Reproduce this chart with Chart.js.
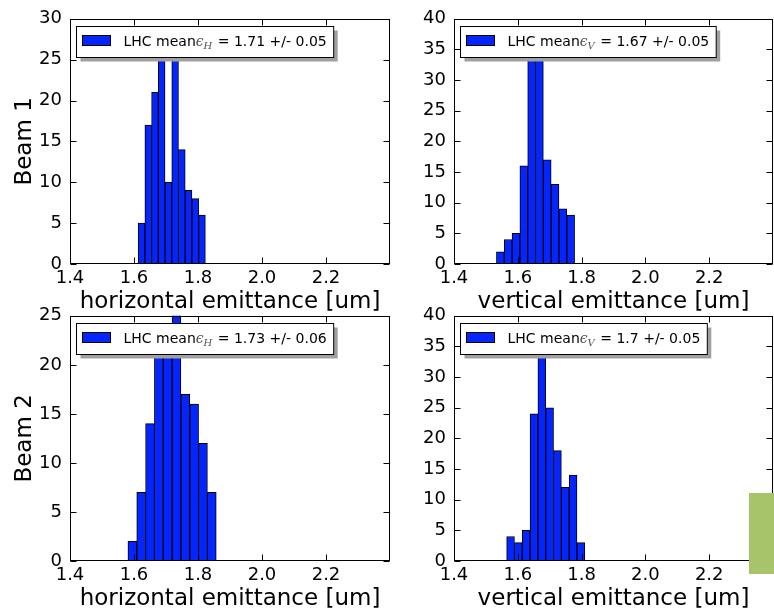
<!DOCTYPE html>
<html><head><meta charset="utf-8">
<script src="https://cdn.jsdelivr.net/npm/chart.js@4/dist/chart.umd.min.js"></script>
<style>
html,body{margin:0;padding:0;background:#fff;overflow:hidden;width:774px;height:610px;}
canvas{position:absolute;}
#green{position:absolute;left:749px;top:493px;width:25px;height:81px;background:#a7c46b;z-index:5;}
</style></head><body>
<canvas id="c1" width="400" height="320" style="left:0;top:0"></canvas>
<canvas id="c2" width="390" height="320" style="left:384px;top:0"></canvas>
<canvas id="c3" width="400" height="320" style="left:0;top:297px"></canvas>
<canvas id="c4" width="390" height="320" style="left:384px;top:297px"></canvas>
<div id="green"></div>
<script>
// ---- data ----
const xTickValues = [1.4, 1.6, 1.8, 2.0, 2.2];
const binCentersH1 = [1.6235, 1.6445, 1.6655, 1.6865, 1.7075, 1.7285, 1.7495, 1.7705, 1.7915, 1.8125];
const countsH1     = [5, 17, 21, 27, 10, 28, 14, 9, 8, 6];
const binCentersV1 = [1.5453, 1.5698, 1.5943, 1.6188, 1.6433, 1.6678, 1.6923, 1.7168, 1.7413, 1.7658];
const countsV1     = [2, 4, 5, 16, 36, 35, 17, 13, 9, 8];
const binCentersH2 = [1.5948, 1.6224, 1.6500, 1.6776, 1.7052, 1.7328, 1.7604, 1.7880, 1.8156, 1.8432];
const countsH2     = [2, 7, 14, 22, 23, 26, 17, 16, 12, 7];
const binCentersV2 = [1.5773, 1.6018, 1.6263, 1.6508, 1.6753, 1.6998, 1.7243, 1.7488, 1.7733, 1.7978];
const countsV2     = [4, 3, 5, 24, 36, 25, 18, 12, 14, 3];
const yMaxes       = [30, 40, 25, 40];
const legendMeans  = ['1.71', '1.67', '1.73', '1.7'];
const legendErrs   = ['0.05', '0.05', '0.06', '0.05'];
const legendSubs   = ['H', 'V', 'H', 'V'];
const xTitles      = ['horizontal emittance [um]', 'vertical emittance [um]', 'horizontal emittance [um]', 'vertical emittance [um]'];
const rowTitles    = ['Beam 1', '', 'Beam 2', ''];

const BLUE = '#0525ff';
Chart.defaults.font.family = "'DejaVu Sans', sans-serif";
Chart.defaults.color = '#000';

const decorPlugin = {
  id: 'decor',
  afterDatasetsDraw(chart, args, o) {
    const {ctx, chartArea: a, scales: {x, y}} = chart;
    ctx.save();
    ctx.strokeStyle = '#000';
    ctx.lineWidth = 1;
    const L = Math.round(a.left) + 0.5, R = Math.round(a.right) - 0.5;
    const T = Math.round(a.top) + 0.5, B = Math.round(a.bottom) - 0.5;
    ctx.strokeRect(L, T, R - L, B - T);
    const tl = 6;
    ctx.beginPath();
    x.ticks.forEach(t => {
      const px = Math.round(x.getPixelForValue(t.value)) + 0.5;
      ctx.moveTo(px, B); ctx.lineTo(px, B - tl);
      ctx.moveTo(px, T); ctx.lineTo(px, T + tl);
    });
    y.ticks.forEach(t => {
      const py = Math.round(y.getPixelForValue(t.value)) + 0.5;
      ctx.moveTo(L, py); ctx.lineTo(L + tl, py);
      ctx.moveTo(R, py); ctx.lineTo(R - tl, py);
    });
    ctx.stroke();

    // legend box
    const sans = "14px 'DejaVu Sans'";
    const serif = "italic 14px 'DejaVu Serif'";
    const serifSub = "italic 10px 'DejaVu Serif'";
    const s1 = 'LHC mean', s2 = '\u03F5', s3 = o.sub, s4 = ' = ' + o.mean + ' +/- ' + o.err;
    ctx.font = sans; const w1 = ctx.measureText(s1).width, w4 = ctx.measureText(s4).width;
    ctx.font = serif; const w2 = ctx.measureText(s2).width;
    ctx.font = serifSub; const w3 = ctx.measureText(s3).width;
    const bx = Math.round(a.left) + 6.5, by = Math.round(a.top) + 7.5;
    const textX = bx + 47;
    const bw = 47 + w1 + w2 + w3 + 1 + w4 + 7, bh = 31;
    ctx.fillStyle = '#a0a0a0';
    ctx.fillRect(bx + 4, by + 4, bw, bh);
    ctx.fillStyle = '#fff';
    ctx.fillRect(bx, by, bw, bh);
    ctx.strokeRect(bx, by, bw, bh);
    ctx.fillStyle = BLUE;
    ctx.fillRect(bx + 6, by + 9, 28, 10);
    ctx.strokeRect(bx + 6, by + 9, 28, 10);
    const base = by + 19.5;
    ctx.fillStyle = '#000';
    ctx.textBaseline = 'alphabetic';
    ctx.textAlign = 'left';
    ctx.font = sans; ctx.fillText(s1, textX, base);
    ctx.fillStyle = '#555';
    ctx.font = serif; ctx.fillText(s2, textX + w1, base);
    ctx.font = serifSub; ctx.fillText(s3, textX + w1 + w2, base + 3);
    ctx.fillStyle = '#000';
    ctx.font = sans; ctx.fillText(s4, textX + w1 + w2 + w3 + 1, base);
    ctx.restore();
  }
};

function makeChart(id, idx, centers, counts, rightSide) {
  const data = centers.map((c, i) => ({x: c, y: counts[i]}));
  return new Chart(document.getElementById(id), {
    type: 'bar',
    data: {datasets: [{
      data,
      backgroundColor: BLUE,
      borderColor: '#000',
      borderWidth: 1,
      borderSkipped: false,
      barPercentage: 1,
      categoryPercentage: 1
    }]},
    options: {
      responsive: false,
      animation: false,
      events: [],
      layout: {padding: {top: 17, right: rightSide ? 1 : 10, left: 0, bottom: 0}},
      plugins: {
        legend: {display: false},
        tooltip: {enabled: false},
        decor: {mean: legendMeans[idx], err: legendErrs[idx], sub: legendSubs[idx]}
      },
      scales: {
        x: {
          type: 'linear', min: 1.4, max: 2.4, offset: false,
          grid: {display: false, drawTicks: false, offset: false},
          border: {display: false},
          afterBuildTicks: s => { s.ticks = xTickValues.map(v => ({value: v})); },
          afterFit: s => { s.height = 56; },
          ticks: {font: {size: 18}, padding: 4, maxRotation: 0, autoSkip: false,
                  callback: v => v.toFixed(1)},
          title: {display: true, text: xTitles[idx], font: {size: 23}, padding: {top: 0, bottom: 4}}
        },
        y: {
          min: 0, max: yMaxes[idx],
          grid: {display: false, drawTicks: false},
          border: {display: false},
          afterFit: s => { s.width = 70; },
          ticks: {font: {size: 18}, padding: 8, stepSize: 5},
          title: {display: !!rowTitles[idx], text: rowTitles[idx], font: {size: 23}, padding: {top: 11, bottom: 0}}
        }
      }
    },
    plugins: [decorPlugin]
  });
}
makeChart('c1', 0, binCentersH1, countsH1, false);
makeChart('c2', 1, binCentersV1, countsV1, true);
makeChart('c3', 2, binCentersH2, countsH2, false);
makeChart('c4', 3, binCentersV2, countsV2, true);
</script>
</body></html>
